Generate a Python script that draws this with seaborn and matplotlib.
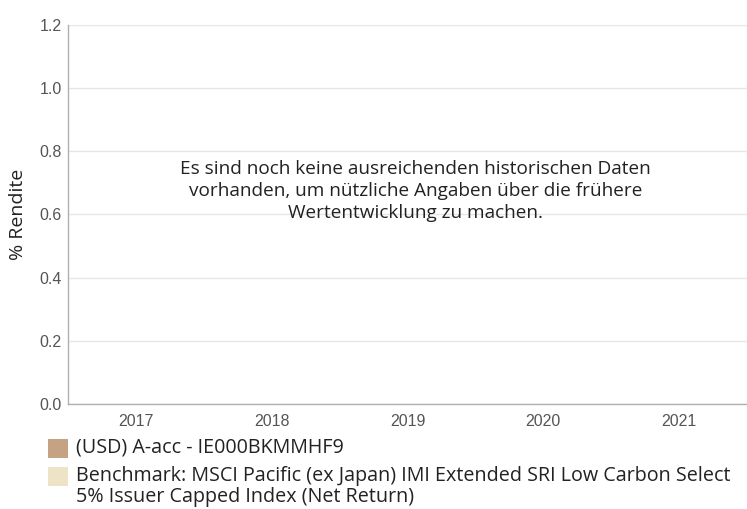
import numpy as np
import pandas as pd
import seaborn as sns
import matplotlib.pyplot as plt
from matplotlib.patches import Rectangle

# Jahre und Renditen (noch keine Daten vorhanden)
jahre = ['2017', '2018', '2019', '2020', '2021']
fonds_rendite = [np.nan, np.nan, np.nan, np.nan, np.nan]
benchmark_rendite = [np.nan, np.nan, np.nan, np.nan, np.nan]

serien = ['(USD) A-acc - IE000BKMMHF9',
          'Benchmark: MSCI Pacific (ex Japan) IMI Extended SRI Low Carbon Select\n5% Issuer Capped Index (Net Return)']
farben = ['#c4a283', '#efe3c7']

hinweis = ('Es sind noch keine ausreichenden historischen Daten\n'
           'vorhanden, um nützliche Angaben über die frühere\n'
           'Wertentwicklung zu machen.')

dados = pd.DataFrame({
    'Jahr': jahre * 2,
    'Rendite': fonds_rendite + benchmark_rendite,
    'Serie': [serien[0]] * len(jahre) + [serien[1]] * len(jahre),
})

sns.set_theme(style='white')
plt.rcParams['font.family'] = ['Open Sans', 'DejaVu Sans']

W, H = 747, 509
fig = plt.figure(figsize=(W / 100, H / 100), dpi=100)
ax = fig.add_axes([68 / W, 1 - 404 / H, 679 / W, 379 / H])

sns.barplot(data=dados, x='Jahr', y='Rendite', hue='Serie', order=jahre,
            hue_order=serien, palette=farben, ax=ax, legend=False, errorbar=None)

ax.set_xlim(-0.5, len(jahre) - 0.5)
ax.set_ylim(0, 1.2)
ax.set_yticks([0, 0.2, 0.4, 0.6, 0.8, 1.0, 1.2])
ax.set_yticklabels(['0.0', '0.2', '0.4', '0.6', '0.8', '1.0', '1.2'])
ax.yaxis.grid(True, color='#e6e6e6', linewidth=1)
ax.set_axisbelow(True)
ax.tick_params(axis='both', length=0, labelsize=11.5, labelcolor='#555555')
ax.tick_params(axis='x', pad=7)
ax.tick_params(axis='y', pad=4.5)
for lab in ax.get_xticklabels() + ax.get_yticklabels():
    lab.set_family('Liberation Sans')

ax.set_xlabel('')
ax.set_ylabel('% Rendite', fontsize=14, color='#222222', labelpad=9)

for s in ['top', 'right']:
    ax.spines[s].set_visible(False)
for s in ['left', 'bottom']:
    ax.spines[s].set_color('#b0b0b0')
    ax.spines[s].set_linewidth(1)

ax.text(0.512, 0.562, hinweis, transform=ax.transAxes, ha='center', va='center',
        fontsize=13.7, color='#222222', linespacing=1.3)

# Legende von Hand: Farbfeld auf Höhe der ersten Textzeile
zeile_y = [448, 476]
for farbe, label, y in zip(farben, serien, zeile_y):
    fig.add_artist(Rectangle((48 / W, 1 - (y + 9.5) / H), 20 / W, 19 / H,
                             transform=fig.transFigure, facecolor=farbe, edgecolor='none'))
    for i, teil in enumerate(label.split('\n')):
        fig.text(76 / W, 1 - (y + 21 * i) / H, teil, ha='left', va='center',
                 fontsize=14.2, color='#222222')

fig.savefig('out.png', dpi=100)
